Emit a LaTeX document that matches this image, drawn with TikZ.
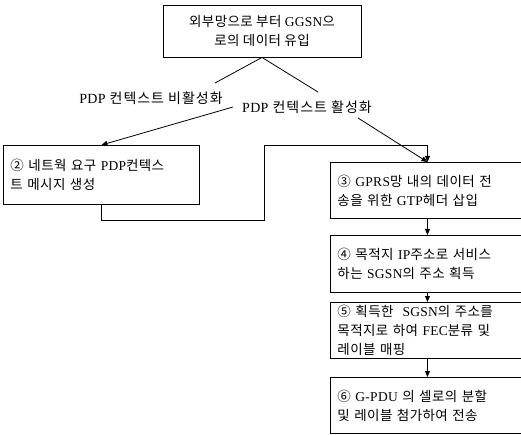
\documentclass[tikz,border=0pt]{standalone}
\usepackage{fontspec}
\setmainfont{Noto Sans CJK KR}[LetterSpace=3]
\newfontfamily\lat{Liberation Serif}[LetterSpace=2]
\newcommand{\latw}[1]{{\lat #1}}
\usetikzlibrary{arrows.meta,positioning}
\begin{document}
\begin{tikzpicture}[x=1pt,y=-1pt,
  every node/.style={font=\fontsize{13.5}{19}\selectfont},
  box/.style={draw,line width=0.9pt,rectangle,inner xsep=7pt,inner ysep=0pt,align=left},
  rbox/.style={box,anchor=north west,minimum width=194pt,text width=180pt},
  lab/.style={inner sep=1pt,font=\fontsize{14}{19}\selectfont\addfontfeature{LetterSpace=7}},
  ln/.style={line width=0.8pt},
  arr/.style={line width=0.8pt,-{Triangle[length=6pt,width=5pt]}}]
\useasboundingbox (0,0) rectangle (521,435);
\node[box,align=center,minimum width=198pt,minimum height=52pt] (top) at (262,31)
  {외부망으로 부터 \latw{GGSN}으\\로의 데이터 유입};
\node[box,anchor=north west,minimum width=196pt,minimum height=59pt,text width=182pt] (box2) at (3,145)
  {② 네트웍 요구 \latw{PDP}컨텍스\\트 메시지 생성};
\node[rbox,minimum height=56pt] (box3) at (330,162)
  {③ \latw{GPRS}망 내의 데이터 전\\송을 위한 \latw{GTP}헤더 삽입};
\node[rbox,minimum height=57pt] (box4) at (330,235)
  {④ 목적지 \latw{IP}주소로 서비스\\하는 \latw{SGSN}의 주소 획득};
\node[rbox,minimum height=56pt] (box5) at (330,302)
  {⑤ 획득한 \ \latw{SGSN}의 주소를\\목적지로 하여 \latw{FEC}분류 및\\레이블 매핑};
\node[rbox,minimum height=56pt] (box6) at (330,377)
  {⑥ \latw{G-PDU} 의 셀로의 분할\\및 레이블 첨가하여 전송};
\node[lab] (lab1) at (151,98) {\latw{PDP} 컨텍스트 비활성화};
\node[lab] (lab2) at (307,107) {\latw{PDP} 컨텍스트 활성화};
\coordinate (a1) at (215,83);
\coordinate (a2) at (233,107);
\coordinate (b1) at (318,92);
\coordinate (b2) at (358,118);
\coordinate (j1) at (264,220);
\coordinate (j2) at (264,145);
\draw[ln] (top.south) -- (a1);
\draw[ln] (top.south) -- (b1);
\draw[arr] (a2) -- (box2.north);
\draw[arr] (b2) -- (box3.north);
\draw[arr] (box2.south) |- (j1) -- (j2) -| (box3.north);
\draw[arr] (box3.south) -- (box4.north);
\draw[arr] (box4.south) -- (box5.north);
\draw[arr] (box5.south) -- (box6.north);
\end{tikzpicture}
\end{document}
